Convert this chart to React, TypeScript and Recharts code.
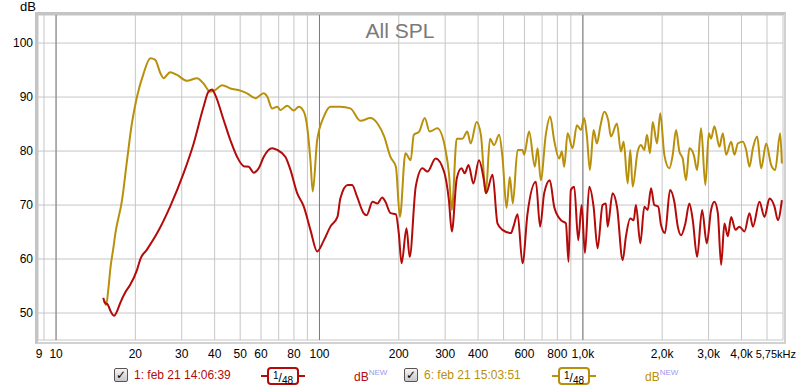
import React from 'react';
import { LineChart, Line, XAxis, YAxis, CartesianGrid, ReferenceLine } from 'recharts';

// measurement 1 (red) and 6 (gold), 1/48 oct smoothing
const RED_FREQ = [15.1, 15.4, 15.7, 16.05, 16.6, 17.1, 17.5, 18.3, 19.1, 20.3, 20.9, 22.1, 24.2, 27.1, 30.5, 33.3, 36.3, 37.9, 39.1, 40.2, 43.3, 45.9, 48.7, 51.6, 53.9, 56.3, 58.8, 61.4, 66.1, 69.1, 74.3, 77.6, 82.3, 87.2, 92.4, 98, 104, 110, 117, 120, 128, 133, 139, 147, 151, 159, 166, 173, 178, 186, 195, 200, 205, 214, 220, 232, 246, 257, 276, 297, 310, 318, 332, 346, 356, 368, 384, 403, 421, 429, 454, 474, 495, 533, 545, 565, 590, 616, 663, 688, 713, 749, 778, 825, 862, 882, 900, 927, 960, 989, 1018, 1057, 1098, 1137, 1188, 1223, 1241, 1297, 1347, 1416, 1457, 1513, 1559, 1590, 1652, 1711, 1762, 1814, 1867, 1933, 1980, 2050, 2142, 2224, 2292, 2359, 2449, 2536, 2613, 2714, 2835, 2953, 3067, 3157, 3253, 3348, 3446, 3549, 3654, 3794, 3929, 4105, 4290, 4419, 4681, 4891, 5109, 5338, 5499, 5693];
const RED_DB = [52.8, 51.8, 51.6, 50.5, 49.5, 50.5, 51.8, 53.8, 55.2, 58.0, 60.0, 61.7, 64.8, 69.7, 75.9, 81.4, 88.2, 91.0, 91.4, 90.4, 85.7, 82.0, 78.9, 77.2, 77.1, 76.0, 76.8, 78.9, 80.5, 80.2, 78.9, 76.5, 72.2, 69.7, 65.4, 61.4, 63.5, 66.0, 67.8, 71.2, 73.7, 73.7, 71.5, 68.5, 68.1, 70.6, 70.3, 71.4, 70.6, 68.5, 68.3, 64.8, 59.2, 65.7, 60.4, 73.4, 76.8, 76.2, 78.6, 76.2, 70.9, 65.1, 74.9, 76.8, 75.9, 77.4, 74.0, 78.3, 74.6, 72.2, 75.6, 66.6, 65.4, 64.8, 66.0, 68.3, 59.2, 68.3, 74.3, 66.0, 72.2, 74.6, 69.7, 67.2, 66.6, 59.5, 72.8, 73.4, 63.5, 70.0, 61.1, 73.4, 69.7, 62.0, 70.0, 70.3, 66.0, 72.2, 69.7, 59.8, 64.2, 67.5, 67.2, 70.0, 62.9, 69.7, 69.1, 73.1, 70.0, 69.7, 66.3, 64.8, 72.8, 70.6, 66.0, 64.4, 66.6, 70.3, 67.2, 60.4, 69.1, 62.9, 69.1, 70.6, 68.5, 58.9, 66.6, 64.2, 67.8, 65.4, 66.0, 65.1, 68.5, 66.0, 70.6, 67.8, 71.2, 69.7, 67.2, 70.9];

const GOLD_FREQ = [15.2, 15.5, 15.8, 16.1, 16.5, 16.8, 17.8, 18.6, 19.4, 20.3, 21.5, 22.8, 23.8, 24.9, 25.6, 27.1, 28.8, 31.4, 34.3, 36.3, 38.5, 40.2, 42.7, 45.9, 50.1, 53.1, 57.1, 61.4, 63.3, 66.1, 69.1, 71.1, 75.4, 79.9, 83.4, 87.2, 89.8, 92.4, 94.3, 98, 104, 110, 120, 131, 143, 156, 166, 176, 186, 195, 202, 212, 222, 228, 239, 251, 262, 280, 301, 310, 318, 332, 349, 364, 375, 395, 410, 428, 444, 460, 481, 495, 513, 528, 542, 565, 590, 598, 625, 657, 673, 692, 723, 751, 778, 813, 832, 849, 875, 914, 949, 983, 1011, 1036, 1063, 1098, 1130, 1164, 1205, 1248, 1278, 1347, 1394, 1428, 1479, 1513, 1545, 1614, 1662, 1711, 1751, 1798, 1841, 1911, 1967, 2038, 2129, 2193, 2258, 2324, 2393, 2464, 2536, 2636, 2714, 2810, 2917, 3006, 3067, 3157, 3299, 3398, 3498, 3654, 3762, 3875, 4048, 4167, 4290, 4419, 4587, 4751, 4963, 5185, 5370, 5610, 5693];
const GOLD_DB = [52.3, 51.5, 54.5, 58.5, 62.0, 64.8, 70.9, 78.3, 85.1, 90.1, 94.4, 97.2, 96.9, 94.4, 93.5, 94.6, 94.1, 93.0, 93.5, 92.5, 91.0, 91.3, 92.2, 91.6, 91.2, 90.7, 89.8, 90.7, 90.1, 87.9, 88.2, 87.6, 88.4, 87.5, 88.2, 87.3, 84.5, 78.3, 72.5, 82.0, 86.4, 88.2, 88.2, 87.9, 85.6, 86.1, 85.1, 82.7, 78.9, 77.1, 67.8, 79.6, 78.3, 83.0, 83.6, 86.1, 83.6, 84.2, 80.2, 75.9, 69.1, 82.3, 82.3, 83.6, 81.4, 85.4, 83.0, 72.2, 82.3, 81.1, 83.0, 78.9, 69.5, 75.2, 70.3, 80.2, 80.2, 79.3, 83.6, 77.1, 80.5, 74.6, 83.0, 86.4, 82.0, 78.6, 79.9, 77.1, 83.3, 80.5, 84.8, 83.9, 86.1, 82.7, 76.5, 83.9, 81.4, 84.5, 87.3, 85.7, 82.7, 85.1, 79.9, 81.7, 74.0, 80.2, 73.4, 79.9, 81.1, 80.2, 83.0, 79.6, 85.4, 81.4, 87.0, 79.3, 76.8, 79.3, 83.9, 79.9, 78.6, 74.6, 80.5, 79.3, 76.5, 84.2, 73.7, 83.3, 82.3, 84.6, 80.8, 83.3, 79.3, 81.7, 79.3, 81.4, 81.7, 80.2, 77.1, 80.5, 82.7, 76.8, 81.4, 77.4, 76.5, 83.3, 77.7];

const X_GRID = [9, 10, 20, 30, 40, 50, 60, 70, 80, 90, 100, 200, 300, 400, 500, 600, 700, 800, 900, 1000, 2000, 3000, 4000, 5000, 5750];
const X_LABELS: Record<number, string> = {
  9: '9', 10: '10', 20: '20', 30: '30', 40: '40', 50: '50', 60: '60', 80: '80', 100: '100',
  200: '200', 300: '300', 400: '400', 600: '600', 800: '800',
  1000: '1,0k', 2000: '2,0k', 3000: '3,0k', 4000: '4,0k', 5750: '5,75kHz',
};
const Y_TICKS = [50, 60, 70, 80, 90, 100];
const DECADES = [10, 100, 1000];

const RED = '#b30a0a';
const GOLD = '#b8900c';
const FONT = '"Liberation Sans", Arial, sans-serif';

const redData = RED_FREQ.map((f, i) => ({ f, db: RED_DB[i] }));
const goldData = GOLD_FREQ.map((f, i) => ({ f, db: GOLD_DB[i] }));

const XTick = ({ x, y, payload }: any) => {
  const label = X_LABELS[payload.value];
  if (!label) return <g />;
  // first and last labels are nudged to stay inside the picture
  if (payload.value === 5750) {
    return (
      <text x={x + 13} y={y + 16} textAnchor="end" fontSize={11} fontFamily={FONT} fill="#000">
        {label}
      </text>
    );
  }
  return (
    <text x={x + (payload.value === 9 ? -5 : 0)} y={y + 16} textAnchor="middle" fontSize={12} fontFamily={FONT} fill="#000">
      {label}
    </text>
  );
};

const YTick = ({ x, y, payload }: any) => (
  <text x={x - 3} y={y + 4} textAnchor="end" fontSize={12} fontFamily={FONT} fill="#000">
    {payload.value}
  </text>
);

const CheckBox = ({ left }: { left: number }) => (
  <div
    style={{
      position: 'absolute', left, top: 368, width: 12, height: 12,
      border: '1px solid #555', borderRadius: 2,
      background: 'linear-gradient(#f4f4f4, #c8c8c8)',
      fontSize: 12, lineHeight: '12px', textAlign: 'center', fontWeight: 'bold',
      fontFamily: '"DejaVu Sans", sans-serif', color: '#000',
    }}
  >
    ✓
  </div>
);

const Smoothing = ({ left, color }: { left: number; color: string }) => (
  <div style={{ position: 'absolute', left, top: 367 }}>
    <div style={{ position: 'absolute', left: -6, top: 8, width: 44, height: 2, background: color }} />
    <div
      style={{
        position: 'absolute', left: 0, top: 0, width: 28, height: 14,
        border: `2px solid ${color}`, borderRadius: 4, background: '#fff',
        fontFamily: FONT, color: '#000', whiteSpace: 'nowrap',
        lineHeight: '14px', textAlign: 'center',
      }}
    >
      <span style={{ fontSize: 10, verticalAlign: 3 }}>1</span>
      <span style={{ fontSize: 12 }}>/</span>
      <span style={{ fontSize: 10, verticalAlign: -2 }}>48</span>
    </div>
  </div>
);

const DbNew = ({ left, color }: { left: number; color: string }) => (
  <div style={{ position: 'absolute', left, top: 368, fontFamily: FONT, fontSize: 12, color, whiteSpace: 'nowrap' }}>
    dB<span style={{ fontSize: 8, color: '#9a9aee', verticalAlign: 6 }}>NEW</span>
  </div>
);

export default function App() {
  return (
    <div style={{ position: 'absolute', left: 0, top: 0, width: 800, height: 390, background: '#fff', fontFamily: FONT }}>
      <LineChart width={800} height={390} margin={{ top: 15, right: 17, bottom: 20, left: 0 }}>
        <CartesianGrid stroke="#c6c6c6" strokeWidth={1} />
        <XAxis
          dataKey="f"
          type="number"
          scale="log"
          domain={[8.54, 5750]}
          allowDataOverflow
          ticks={X_GRID}
          interval={0}
          tick={<XTick />}
          tickLine={false}
          axisLine={false}
          tickSize={0}
          height={30}
        />
        <YAxis
          type="number"
          domain={[45, 105.2]}
          allowDataOverflow
          ticks={Y_TICKS}
          tick={<YTick />}
          tickLine={false}
          axisLine={false}
          tickSize={0}
          width={38}
        />
        {DECADES.map((d) => (
          <ReferenceLine key={d} x={d} stroke="#7c7c7c" strokeWidth={1} />
        ))}
        <Line data={goldData} dataKey="db" type="monotone" stroke={GOLD} strokeWidth={2} dot={false} isAnimationActive={false} />
        <Line data={redData} dataKey="db" type="monotone" stroke={RED} strokeWidth={2} dot={false} isAnimationActive={false} />
      </LineChart>

      {/* plot frame */}
      <div
        style={{
          position: 'absolute', left: 35, top: 12, width: 746, height: 327,
          borderTop: '3px solid #c4c4c4', borderLeft: '3px solid #c4c4c4',
          borderRight: '2px solid #d2d2d2', borderBottom: '2px solid #d2d2d2',
          pointerEvents: 'none',
        }}
      />
      <div style={{ position: 'absolute', left: 20, top: -1, fontSize: 13, color: '#000' }}>dB</div>
      <div style={{ position: 'absolute', left: 0, width: 800, top: 19, textAlign: 'center', fontSize: 21, color: '#7a7a7a' }}>
        All SPL
      </div>

      {/* legend */}
      <CheckBox left={114} />
      <div style={{ position: 'absolute', left: 134, top: 368, fontSize: 12, color: RED, whiteSpace: 'nowrap' }}>1: feb 21 14:06:39</div>
      <Smoothing left={267} color={RED} />
      <DbNew left={354} color={RED} />
      <CheckBox left={404} />
      <div style={{ position: 'absolute', left: 424, top: 368, fontSize: 12, color: GOLD, whiteSpace: 'nowrap' }}>6: feb 21 15:03:51</div>
      <Smoothing left={558} color={GOLD} />
      <DbNew left={645} color={GOLD} />
    </div>
  );
}
